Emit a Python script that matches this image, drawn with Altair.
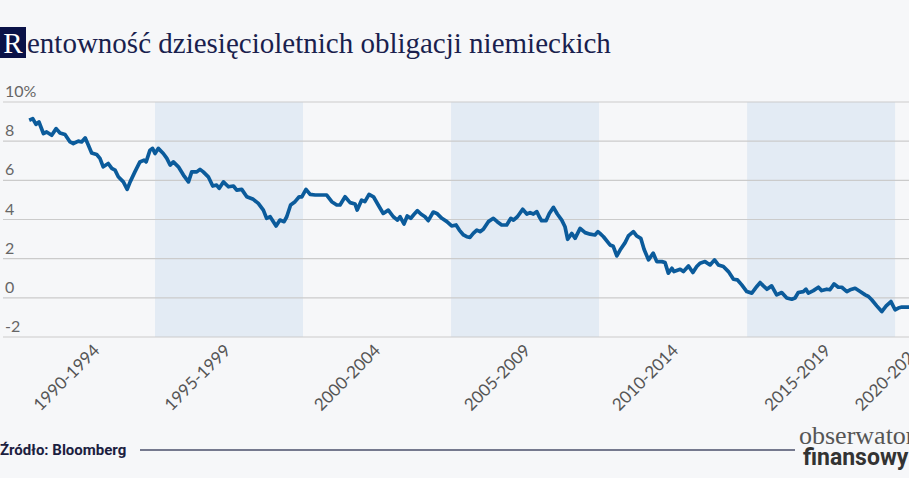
import altair as alt
import pandas as pd

# ---- data ----
years = [1990.75, 1990.87, 1990.98, 1991.08, 1991.23, 1991.34, 1991.51, 1991.66, 1991.79, 1991.96,
         1992.13, 1992.24, 1992.41, 1992.52, 1992.64, 1992.75, 1992.86, 1993.03, 1993.14, 1993.25,
         1993.42, 1993.54, 1993.65, 1993.76, 1993.93, 1994.06, 1994.16, 1994.32, 1994.49, 1994.63,
         1994.70, 1994.83, 1994.92, 1995.00, 1995.11, 1995.28, 1995.40, 1995.51, 1995.62, 1995.79,
         1995.96, 1996.13, 1996.24, 1996.41, 1996.52, 1996.63, 1996.80, 1996.95, 1997.08, 1997.17,
         1997.31, 1997.48, 1997.65, 1997.76, 1997.93, 1998.10, 1998.32, 1998.49, 1998.66, 1998.77,
         1998.89, 1999.09, 1999.22, 1999.36, 1999.45, 1999.58, 1999.73, 1999.87, 1999.96, 2000.10,
         2000.24, 2000.41, 2000.57, 2000.80, 2000.97, 2001.14, 2001.25, 2001.42, 2001.59, 2001.76,
         2001.83, 2001.98, 2002.09, 2002.23, 2002.38, 2002.54, 2002.71, 2002.88, 2003.05, 2003.19,
         2003.28, 2003.41, 2003.52, 2003.64, 2003.73, 2003.86, 2003.98, 2004.12, 2004.23, 2004.40,
         2004.52, 2004.69, 2004.86, 2005.02, 2005.17, 2005.28, 2005.42, 2005.53, 2005.64, 2005.75,
         2005.87, 2005.98, 2006.09, 2006.26, 2006.43, 2006.56, 2006.71, 2006.88, 2007.02, 2007.11,
         2007.24, 2007.42, 2007.56, 2007.67, 2007.78, 2007.90, 2007.98, 2008.06, 2008.21, 2008.32,
         2008.46, 2008.59, 2008.74, 2008.85, 2008.94, 2009.08, 2009.19, 2009.36, 2009.53, 2009.70,
         2009.86, 2009.96, 2010.03, 2010.15, 2010.37, 2010.48, 2010.60, 2010.71, 2010.88, 2010.99,
         2011.16, 2011.27, 2011.41, 2011.52, 2011.67, 2011.83, 2011.95, 2012.12, 2012.23, 2012.34,
         2012.46, 2012.53, 2012.74, 2012.85, 2013.02, 2013.17, 2013.30, 2013.41, 2013.58, 2013.75,
         2013.90, 2014.03, 2014.20, 2014.37, 2014.54, 2014.67, 2014.82, 2014.99, 2015.16, 2015.33,
         2015.44, 2015.55, 2015.67, 2015.83, 2016.00, 2016.17, 2016.34, 2016.51, 2016.62, 2016.73,
         2016.90, 2016.99, 2017.07, 2017.24, 2017.41, 2017.52, 2017.69, 2017.80, 2017.94, 2018.08,
         2018.20, 2018.37, 2018.48, 2018.65, 2018.82, 2018.99, 2019.10, 2019.21, 2019.38, 2019.55,
         2019.70, 2019.86, 2020.00, 2020.11, 2020.23, 2020.34, 2020.45, 2020.55]

yields_pct = [9.07, 9.15, 8.86, 8.98, 8.39, 8.47, 8.30, 8.64, 8.42, 8.34,
              7.96, 7.88, 8.00, 7.96, 8.17, 7.79, 7.40, 7.32, 7.12, 6.69,
              6.86, 6.61, 6.52, 6.18, 5.92, 5.54, 5.92, 6.43, 6.94, 7.03,
              6.94, 7.54, 7.63, 7.37, 7.63, 7.37, 7.12, 6.78, 6.94, 6.69,
              6.27, 5.92, 6.43, 6.43, 6.56, 6.43, 6.18, 5.71, 5.76, 5.59,
              5.92, 5.67, 5.71, 5.50, 5.54, 5.16, 5.03, 4.82, 4.48, 4.06,
              4.14, 3.67, 3.97, 3.89, 4.14, 4.74, 4.91, 5.16, 5.16, 5.54,
              5.28, 5.25, 5.25, 5.25, 4.91, 4.74, 4.74, 5.16, 4.86, 4.79,
              4.48, 4.99, 4.91, 5.28, 5.16, 4.74, 4.31, 4.48, 4.14, 3.97,
              4.14, 3.77, 4.18, 4.06, 4.23, 4.45, 4.28, 4.14, 3.94, 4.38,
              4.31, 4.06, 3.89, 3.67, 3.72, 3.46, 3.21, 3.12, 3.09, 3.29,
              3.46, 3.38, 3.50, 3.89, 4.06, 3.89, 3.72, 3.72, 4.06, 3.97,
              4.14, 4.52, 4.28, 4.35, 4.28, 4.40, 4.14, 3.94, 3.94, 4.31,
              4.62, 4.28, 3.97, 3.63, 2.99, 3.29, 3.04, 3.55, 3.33, 3.25,
              3.21, 3.38, 3.29, 3.12, 2.70, 2.63, 2.14, 2.44, 2.82, 3.16,
              3.38, 3.16, 3.04, 2.48, 1.94, 2.28, 1.85, 1.85, 1.80, 1.26,
              1.51, 1.34, 1.46, 1.34, 1.63, 1.29, 1.60, 1.77, 1.85, 1.68,
              1.94, 1.68, 1.60, 1.34, 0.95, 0.92, 0.66, 0.32, 0.24, 0.58,
              0.78, 0.61, 0.44, 0.61, 0.15, 0.27, -0.01, -0.07, -0.01, 0.27,
              0.32, 0.44, 0.24, 0.37, 0.54, 0.37, 0.44, 0.41, 0.71, 0.54,
              0.54, 0.32, 0.41, 0.49, 0.32, 0.15, 0.07, -0.10, -0.41, -0.70,
              -0.41, -0.19, -0.61, -0.52, -0.47, -0.47, -0.47, -0.48]

band_start = [1995, 2005, 2015]
band_end = [2000, 2010, 2020]

y_ticks = [-2, 0, 2, 4, 6, 8, 10]
y_labels = ["-2", "0", "2", "4", "6", "8", "10%"]

x_label_pos = [1993.05, 1997.47, 2002.53, 2007.6, 2012.6, 2017.74, 2020.8]
x_labels = ["1990-1994", "1995-1999", "2000-2004", "2005-2009",
            "2010-2014", "2015-2019", "2020-2024"]

title_first = "R"
title_rest = "entowność dziesięcioletnich obligacji niemieckich"
source_text = "Źródło: Bloomberg"
logo_top = "obserwator"
logo_bottom = "finansowy"

# ---- layout ----
W, H = 906, 235
PAD_L, PAD_T = 3, 102
PAD_B = 478 - PAD_T - H

xs = alt.Scale(domain=[1989.865, 2020.47], nice=False, zero=False)
ys = alt.Scale(domain=[-2, 10], nice=False, zero=False)

line_df = pd.DataFrame({"year": years, "value": yields_pct})
band_df = pd.DataFrame({"start": band_start, "end": band_end})
ytick_df = pd.DataFrame({"v": y_ticks, "label": y_labels})
xlab_df = pd.DataFrame({"pos": x_label_pos, "label": x_labels})

bands = alt.Chart(band_df).mark_rect(color="#e3ebf4").encode(
    x=alt.X("start:Q", scale=xs, axis=None),
    x2="end:Q",
    y=alt.value(0),
    y2=alt.value(H),
)

grid = alt.Chart(ytick_df).mark_rule(color="#cbcbcb", strokeWidth=1.2).encode(
    y=alt.Y("v:Q", scale=ys, axis=None)
)

ylabels = alt.Chart(ytick_df).mark_text(
    align="left", baseline="alphabetic", dy=-5, font="Lato", fontSize=16, color="#666666"
).encode(x=alt.value(2), y=alt.Y("v:Q", scale=ys, axis=None), text="label:N")

line = alt.Chart(line_df).mark_line(
    color="#0b5b9b", strokeWidth=3.7, clip=True, strokeJoin="round"
).encode(
    x=alt.X("year:Q", scale=xs, axis=None),
    y=alt.Y("value:Q", scale=ys, axis=None),
)

xlabels = alt.Chart(xlab_df).mark_text(
    angle=315, align="right", baseline="middle", font="Lato", fontSize=17, color="#555555"
).encode(x=alt.X("pos:Q", scale=xs, axis=None), y=alt.value(H + 11), text="label:N")

t1_df = pd.DataFrame({"t": [title_first]})
t2_df = pd.DataFrame({"t": [title_rest]})
src_df = pd.DataFrame({"t": [source_text]})
lg1_df = pd.DataFrame({"t": [logo_top]})
lg2_df = pd.DataFrame({"t": [logo_bottom]})

rbox = alt.Chart(t1_df).mark_rect(color="#0a1248").encode(
    x=alt.value(-PAD_L), x2=alt.value(23), y=alt.value(27 - PAD_T), y2=alt.value(58 - PAD_T)
)
rtext = alt.Chart(t1_df).mark_text(
    font="Liberation Serif", fontSize=29, color="white", align="center", baseline="alphabetic"
).encode(x=alt.value(10), y=alt.value(53 - PAD_T), text="t:N")
ttext = alt.Chart(t2_df).mark_text(
    font="Liberation Serif", fontSize=29, color="#1a1f4e", align="left", baseline="alphabetic"
).encode(x=alt.value(24), y=alt.value(53 - PAD_T), text="t:N")

src = alt.Chart(src_df).mark_text(
    font="Roboto", fontSize=15, fontWeight="bold", color="#1b2040",
    align="left", baseline="alphabetic"
).encode(x=alt.value(-PAD_L), y=alt.value(455 - PAD_T), text="t:N")
src_line = alt.Chart(src_df).mark_rule(color="#4a4f6a", strokeWidth=1.5).encode(
    x=alt.value(140 - PAD_L), x2=alt.value(795 - PAD_L), y=alt.value(450 - PAD_T)
)
lg1 = alt.Chart(lg1_df).mark_text(
    font="Liberation Serif", fontSize=26, color="#555555", align="left", baseline="alphabetic"
).encode(x=alt.value(799 - PAD_L), y=alt.value(444 - PAD_T), text="t:N")
lg2 = alt.Chart(lg2_df).mark_text(
    font="Roboto", fontSize=23, fontWeight="bold", color="#333333",
    align="left", baseline="alphabetic"
).encode(x=alt.value(803 - PAD_L), y=alt.value(465 - PAD_T), text="t:N")

chart = alt.layer(
    bands, grid, ylabels, line, xlabels, rbox, rtext, ttext, src, src_line, lg1, lg2
).properties(
    width=W,
    height=H,
    background="#f6f7f9",
    padding={"left": PAD_L, "top": PAD_T, "right": 0, "bottom": PAD_B},
    autosize=alt.AutoSizeParams(type="none"),
).configure_view(stroke=None)

chart.save("out.html", embed_options={"renderer": "svg", "actions": False})
